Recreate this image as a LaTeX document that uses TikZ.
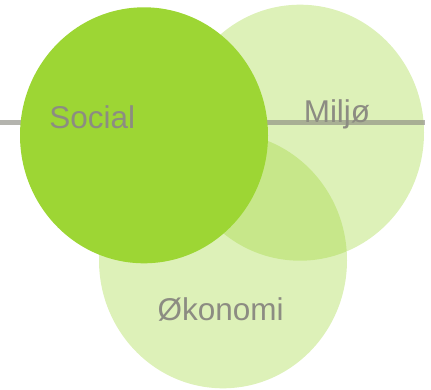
\documentclass[tikz,border=0pt]{standalone}
\usepackage{fontspec}
\setmainfont{Liberation Sans}
\usetikzlibrary{shapes.geometric}
\definecolor{leaf}{RGB}{157,214,52}
\definecolor{ash}{RGB}{140,140,130}

\begin{document}
\begin{tikzpicture}[x=1pt,y=-1pt,
		circ/.style={ellipse,minimum width=248pt,minimum height=256pt,inner sep=0pt},
		pale/.style={circ,fill=leaf,fill opacity=0.35},
		lbl/.style={anchor=base,text=ash,font=\fontsize{31.5}{36}\selectfont}]
		\useasboundingbox (0,0) rectangle (431,390);
		\node[pale](miljo) at (300,132.7) {};
		\node[pale](okonomi) at (223,260.3) {};
		\coordinate (lineL) at (0,122.5);
		\coordinate (lineR) at (425,122.5);
		\draw[ash,line width=5.5pt,opacity=0.65] (lineL) -- (lineR);
		\node[circ,fill=leaf](social) at (144,135.3) {};
		\node[lbl](socialtxt) at (92.2,128.7) {Social};
		\node[lbl](miljotxt) at (337,122.7) {Miljø};
		\node[lbl](okonomitxt) at (220.7,320.7) {Økonomi};
		\end{tikzpicture}
\end{document}
